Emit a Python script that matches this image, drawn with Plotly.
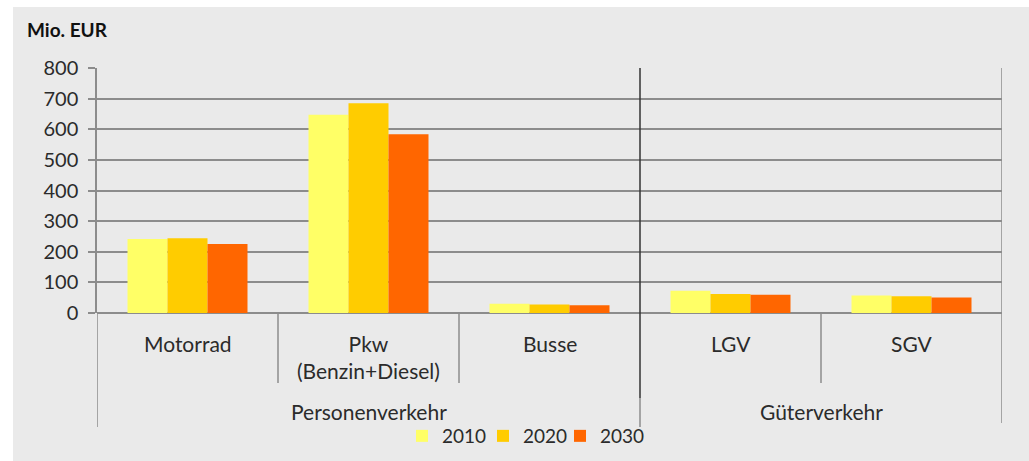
import plotly.graph_objects as go

# Vehicle categories and their groups
categories = ["Motorrad", "Pkw<br>(Benzin+Diesel)", "Busse", "LGV", "SGV"]
groups = ["Personenverkehr", "Güterverkehr"]
group_spans = [(-0.5, 2.5), (2.5, 4.5)]

# Costs in Mio. EUR per year
years = ["2010", "2020", "2030"]
values_2010 = [242, 647, 30, 73, 57]
values_2020 = [244, 685, 28, 62, 55]
values_2030 = [225, 584, 25, 60, 51]
series_colors = ["#FFFF66", "#FFCC00", "#FF6600"]

y_ticks = [0, 100, 200, 300, 400, 500, 600, 700, 800]

W, H = 1029, 461
ML, MR, MT, MB = 97, 27, 68, 148
plot_h = H - MT - MB


def py(pix):
    """Convert a pixel row to paper y (0 = bottom of plot area)."""
    return (H - MB - pix) / plot_h


FONT = "Lato"
TXT = "#2b2b2b"
GRID = "#8c8c8c"

fig = go.Figure()
x_idx = list(range(len(categories)))
legend_ids = ["legend", "legend2", "legend3"]
legend_left_px = [402, 483, 560]
for name, vals, col, lid in zip(years, [values_2010, values_2020, values_2030], series_colors, legend_ids):
    fig.add_trace(go.Bar(x=x_idx, y=vals, name=name, legend=lid,
                         marker=dict(color=col, line=dict(width=0))))

shapes = []
# grey panel behind the whole chart
shapes.append(dict(type="rect", xref="paper", yref="paper",
                   x0=(13 - ML) / (W - ML - MR), x1=(W - ML) / (W - ML - MR) + 0.01,
                   y0=py(H + 2), y1=py(7), fillcolor="#EAEAEA", line=dict(width=0), layer="below"))
# left axis extension into label area
shapes.append(dict(type="line", xref="x", yref="paper", x0=-0.5, x1=-0.5,
                   y0=py(427), y1=0, line=dict(color=GRID, width=1.5)))
# right border
shapes.append(dict(type="line", xref="x", yref="paper", x0=4.5, x1=4.5,
                   y0=py(423), y1=1, line=dict(color=GRID, width=1.5)))
# separators between categories inside a group
for xs in [0.5, 1.5, 3.5]:
    shapes.append(dict(type="line", xref="x", yref="paper", x0=xs, x1=xs,
                       y0=py(383), y1=0, line=dict(color=GRID, width=1.5)))
# group separator
shapes.append(dict(type="line", xref="x", yref="paper", x0=2.5, x1=2.5,
                   y0=py(398), y1=1, line=dict(color="#333333", width=1.5)))
shapes.append(dict(type="line", xref="x", yref="paper", x0=2.5, x1=2.5,
                   y0=py(427), y1=py(398), line=dict(color=GRID, width=1.5)))

annotations = []
for i, c in enumerate(categories):
    yy = 356.5 if "<br>" in c else 343
    annotations.append(dict(x=i, y=py(yy), xref="x", yref="paper", text=c, showarrow=False,
                            xanchor="center", yanchor="middle",
                            font=dict(family=FONT, size=21, color=TXT)))
for g, (a, b) in zip(groups, group_spans):
    annotations.append(dict(x=(a + b) / 2, y=py(411), xref="x", yref="paper", text=g, showarrow=False,
                            xanchor="center", yanchor="middle",
                            font=dict(family=FONT, size=21, color=TXT)))
annotations.append(dict(x=(25 - ML) / (W - ML - MR), y=py(30), xref="paper", yref="paper",
                        text="<b>Mio. EUR</b>", showarrow=False, xanchor="left", yanchor="middle",
                        font=dict(family=FONT, size=19, color="#111111")))

legend_style = dict(orientation="h", xref="container", yref="container", xanchor="left",
                    y=(H - 436) / H, yanchor="middle", bgcolor="rgba(0,0,0,0)",
                    font=dict(family=FONT, size=19, color=TXT), itemwidth=30)
legends = {lid: dict(legend_style, x=px / W) for lid, px in zip(legend_ids, legend_left_px)}

fig.update_layout(
    width=W, height=H,
    margin=dict(l=ML, r=MR, t=MT, b=MB, pad=0),
    paper_bgcolor="white",
    plot_bgcolor="#EAEAEA",
    barmode="group",
    bargap=0.337,
    bargroupgap=0,
    showlegend=True,
    shapes=shapes,
    annotations=annotations,
    font=dict(family=FONT, color=TXT),
    **legends,
)
fig.update_xaxes(range=[-0.5, 4.5], showticklabels=False, showgrid=False, zeroline=False,
                 showline=False, ticks="", fixedrange=True)
fig.update_yaxes(range=[0, 800], tickvals=y_ticks, showgrid=True, gridcolor=GRID, gridwidth=1.5,
                 zeroline=True, zerolinecolor=GRID, zerolinewidth=1.5,
                 showline=True, linecolor=GRID, linewidth=1.5,
                 ticks="outside", ticklen=7, tickcolor=GRID, tickwidth=1.5,
                 tickfont=dict(family=FONT, size=20, color=TXT), ticklabelstandoff=6)

fig.write_html("out.html")
